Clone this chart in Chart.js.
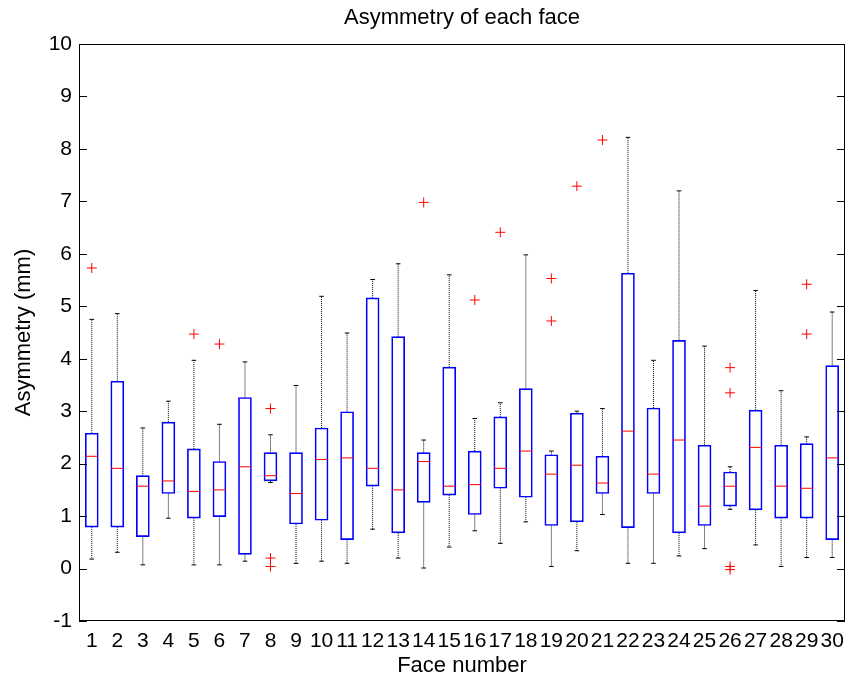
<!DOCTYPE html>
<html>
<head>
<meta charset="utf-8">
<script src="https://cdn.jsdelivr.net/npm/chart.js@4.4.1/dist/chart.umd.min.js"></script>
<style>
  body { margin: 0; background: #fff; }
  #wrap { width: 852px; height: 680px; }
</style>
</head>
<body>
<div id="wrap"><canvas id="chart"></canvas></div>
<script>
// one box per face, values in mm
const faces = ['1','2','3','4','5','6','7','8','9','10','11','12','13','14','15',
               '16','17','18','19','20','21','22','23','24','25','26','27','28','29','30'];
const whiskerLow  = [0.18,0.31,0.07,0.96,0.07,0.07,0.14,1.64,0.10,0.14,0.10,0.75,0.20,0.01,0.41,
                     0.72,0.48,0.89,0.04,0.34,1.03,0.10,0.10,0.24,0.38,1.13,0.45,0.04,0.21,0.21];
const q1          = [0.79,0.79,0.61,1.43,0.96,0.99,0.27,1.67,0.85,0.92,0.55,1.57,0.68,1.26,1.40,
                     1.03,1.53,1.36,0.82,0.89,1.43,0.78,1.43,0.68,0.82,1.19,1.12,0.96,0.96,0.55];
const medians     = [2.14,1.91,1.57,1.67,1.47,1.50,1.94,1.77,1.43,2.08,2.11,1.91,1.50,2.04,1.57,
                     1.60,1.91,2.24,1.80,1.97,1.63,2.62,1.80,2.45,1.19,1.57,2.31,1.57,1.53,2.11];
const q3          = [2.58,3.57,1.77,2.79,2.28,2.04,3.26,2.21,2.21,2.68,2.99,5.16,4.42,2.21,3.84,
                     2.24,2.89,3.43,2.17,2.96,2.14,5.63,3.06,4.35,2.35,1.84,3.02,2.35,2.38,3.87];
const whiskerHigh = [4.75,4.86,2.68,3.19,3.97,2.75,3.94,2.55,3.49,5.19,4.49,5.51,5.81,2.45,5.60,
                     2.86,3.16,5.98,2.24,3.00,3.05,8.22,3.97,7.20,4.24,1.94,5.30,3.39,2.51,4.89];
const outliers = [[5.73],[],[],[],[4.47],[4.28],[],[3.05,0.20,0.04],[],[],[],[],[],[6.98],[],
                  [5.12],[6.41],[],[5.53,4.72],[7.29],[8.17],[],[],[],[],[3.83,3.35,0.04,-0.02],[],[],[5.42,4.47],[]];
const yTicks = [-1,0,1,2,3,4,5,6,7,8,9,10];

const capHalf = 0.09;
const medHalf = 0.25;

const boxData = [], medData = [], whiskData = [], capData = [], outData = [];
faces.forEach((f, i) => {
  const x = i + 1;
  boxData.push({x: x, y: [q1[i], q3[i]]});
  medData.push({x: x - medHalf, y: medians[i]}, {x: x + medHalf, y: medians[i]}, {x: x, y: null});
  whiskData.push({x: x, y: q3[i]}, {x: x, y: whiskerHigh[i]}, {x: x, y: null},
                 {x: x, y: q1[i]}, {x: x, y: whiskerLow[i]}, {x: x, y: null});
  capData.push({x: x - capHalf, y: whiskerHigh[i]}, {x: x + capHalf, y: whiskerHigh[i]}, {x: x, y: null},
               {x: x - capHalf, y: whiskerLow[i]}, {x: x + capHalf, y: whiskerLow[i]}, {x: x, y: null});
  outliers[i].forEach(v => outData.push({x: x, y: v}));
});

// matlab style frame with inward ticks
const frame = {
  id: 'frame',
  afterDraw(chart) {
    const {ctx, chartArea: a, scales: {y}} = chart;
    ctx.save();
    ctx.strokeStyle = '#000';
    ctx.lineWidth = 1;
    ctx.beginPath();
    y.ticks.forEach(t => {
      const py = Math.round(y.getPixelForValue(t.value)) + 0.5;
      ctx.moveTo(a.left, py); ctx.lineTo(a.left + 8, py);
      ctx.moveTo(a.right, py); ctx.lineTo(a.right - 8, py);
    });
    ctx.stroke();
    ctx.strokeRect(Math.round(a.left) + 0.5, Math.round(a.top) + 0.5,
                   Math.round(a.right - a.left) - 1, Math.round(a.bottom - a.top) - 1);
    ctx.restore();
  }
};

Chart.defaults.font.family = '"Liberation Sans", Arial, sans-serif';
Chart.defaults.color = '#000';

new Chart('chart', {
  type: 'bar',
  data: {
    datasets: [
      {
        type: 'scatter',
        data: outData,
        pointStyle: 'cross',
        pointRadius: 5,
        borderColor: '#ff0000',
        borderWidth: 1,
        order: 1
      },
      {
        type: 'line',
        data: medData,
        borderColor: '#ff0000',
        borderWidth: 1,
        pointRadius: 0,
        spanGaps: false,
        order: 2
      },
      {
        type: 'bar',
        data: boxData,
        backgroundColor: 'rgba(0,0,0,0)',
        borderColor: '#0000ff',
        borderWidth: 1,
        borderSkipped: false,
        barThickness: 13,
        order: 3
      },
      {
        type: 'line',
        data: capData,
        borderColor: '#000',
        borderWidth: 1,
        pointRadius: 0,
        spanGaps: false,
        order: 4
      },
      {
        type: 'line',
        data: whiskData,
        borderColor: '#000',
        borderWidth: 1,
        borderDash: [1, 1],
        pointRadius: 0,
        spanGaps: false,
        order: 5
      }
    ]
  },
  options: {
    responsive: true,
    maintainAspectRatio: false,
    animation: false,
    layout: { padding: { left: 0, right: 3, top: 0, bottom: 0 } },
    plugins: {
      legend: { display: false },
      tooltip: { enabled: false },
      title: {
        display: true,
        text: 'Asymmetry of each face',
        fullSize: false,
        font: { size: 22, weight: 'normal' },
        padding: { top: 5, bottom: 12.6 }
      }
    },
    scales: {
      x: {
        type: 'linear',
        offset: false,
        min: 0.5,
        max: 30.5,
        afterBuildTicks: s => { s.ticks = faces.map((f, i) => ({ value: i + 1 })); },
        afterFit: s => { s.height = 59; },
        grid: { display: false, drawTicks: false, offset: false },
        border: { display: false },
        ticks: {
          autoSkip: false,
          maxRotation: 0,
          padding: 8,
          font: { size: 21 },
          callback: v => faces[v - 1]
        },
        title: {
          display: true,
          text: 'Face number',
          font: { size: 22 },
          padding: { top: 0, bottom: 0.8 }
        }
      },
      y: {
        min: -1,
        max: 10,
        afterBuildTicks: s => { s.ticks = yTicks.map(v => ({ value: v })); },
        afterFit: s => { s.width = 79; },
        grid: { display: false, drawTicks: false },
        border: { display: false },
        ticks: { padding: 7, font: { size: 21 } },
        title: {
          display: true,
          text: 'Asymmetry (mm)',
          font: { size: 22 },
          padding: { top: 11, bottom: 0 }
        }
      }
    }
  },
  plugins: [frame]
});
</script>
</body>
</html>
